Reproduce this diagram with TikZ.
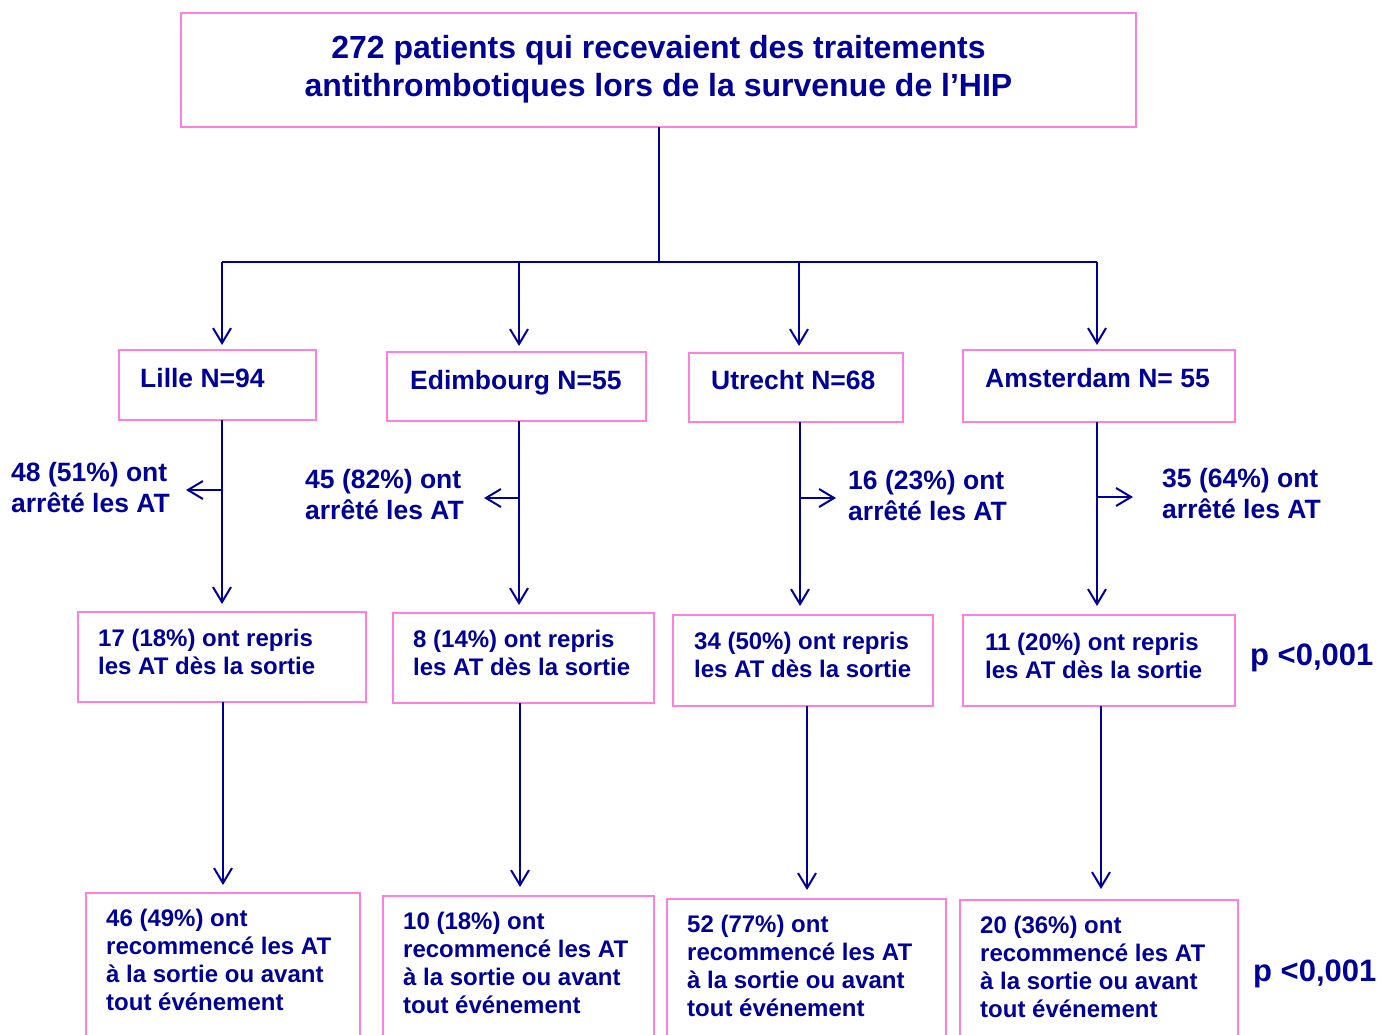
\documentclass[tikz,border=0pt]{standalone}
\usepackage{fontspec}
\setmainfont{Liberation Sans}
\usetikzlibrary{arrows.meta}
\definecolor{navy}{RGB}{0,0,150}
\definecolor{pinkb}{RGB}{255,128,220}
\begin{document}
\begin{tikzpicture}[x=1pt,y=-1pt,
  box/.style={draw=pinkb, line width=2pt, inner sep=0pt, outer sep=0pt},
  txt/.style={text=navy, font=\bfseries\fontsize{24}{28}\selectfont, align=left, anchor=base west, inner sep=0pt},
  lab/.style={text=navy, font=\bfseries\fontsize{26.5}{31}\selectfont, align=left, anchor=base west, inner sep=0pt},
  pval/.style={text=navy, font=\bfseries\fontsize{31}{36}\selectfont, anchor=base west, inner sep=0pt},
  conn/.style={draw=navy, line width=2pt},
  arr/.style={conn, -{Straight Barb[length=15pt,width=18pt]}}]
\useasboundingbox (0,0) rectangle (1389,1035);
\fill[white] (0,0) rectangle (1389,1035);
% boxes
\node[box, minimum width=955pt, minimum height=114pt] (top) at (658.5,70) {};
\node[text=navy, font=\bfseries\fontsize{32}{38}\selectfont, align=center, inner sep=0pt] (title) at (658.5,69)
  {272 patients qui recevaient des traitements\\antithrombotiques lors de la survenue de l’HIP};
\node[box, minimum width=197pt, minimum height=70pt] (lille) at (217.5,385) {};
\node[box, minimum width=259pt, minimum height=69pt] (edim) at (516.5,386.5) {};
\node[box, minimum width=214pt, minimum height=69pt] (utr) at (796,387.5) {};
\node[box, minimum width=272pt, minimum height=72pt] (ams) at (1099,386) {};
\node[lab] (lilleT) at (140,387.5) {Lille N=94};
\node[lab] (edimT) at (410,389.5) {Edimbourg N=55};
\node[lab] (utrT) at (711,389.5) {Utrecht N=68};
\node[lab] (amsT) at (985,387.5) {Amsterdam N= 55};
% row 2
\node[box, minimum width=288pt, minimum height=90pt] (l2) at (222,657) {};
\node[box, minimum width=261pt, minimum height=90pt] (e2) at (523.5,658) {};
\node[box, minimum width=260pt, minimum height=91pt] (u2) at (803,660.5) {};
\node[box, minimum width=272pt, minimum height=91pt] (a2) at (1099,660.5) {};
\node[txt] (l2T) at (98,674) {17 (18\%) ont repris\\les AT dès la sortie};
\node[txt] (e2T) at (413,675) {8 (14\%) ont repris\\les AT dès la sortie};
\node[txt] (u2T) at (694,677) {34 (50\%) ont repris\\les AT dès la sortie};
\node[txt] (a2T) at (985,678) {11 (20\%) ont repris\\les AT dès la sortie};
\node[pval] (p1) at (1250,665) {p <0,001};
% row 3
\node[box, minimum width=274pt, minimum height=200pt] (l3) at (223,993) {};
\node[box, minimum width=271pt, minimum height=200pt] (e3) at (518.5,996) {};
\node[box, minimum width=279pt, minimum height=200pt] (u3) at (806.5,999) {};
\node[box, minimum width=278pt, minimum height=200pt] (a3) at (1099,1000) {};
\node[txt] (l3T) at (106,1010) {46 (49\%) ont\\recommencé les AT\\à la sortie ou avant\\tout événement};
\node[txt] (e3T) at (403,1013) {10 (18\%) ont\\recommencé les AT\\à la sortie ou avant\\tout événement};
\node[txt] (u3T) at (687,1016) {52 (77\%) ont\\recommencé les AT\\à la sortie ou avant\\tout événement};
\node[txt] (a3T) at (980,1017) {20 (36\%) ont\\recommencé les AT\\à la sortie ou avant\\tout événement};
\node[pval] (p2) at (1253,981) {p <0,001};
% side labels
\node[lab] (s1T) at (11,512.5) {48 (51\%) ont\\arrêté les AT};
\node[lab] (s2T) at (305,519.5) {45 (82\%) ont\\arrêté les AT};
\node[lab] (s3T) at (848,520.5) {16 (23\%) ont\\arrêté les AT};
\node[lab] (s4T) at (1162,518.5) {35 (64\%) ont\\arrêté les AT};
% coordinates
\coordinate (hub) at (658.5,262);
\coordinate (b1) at (222,262);
\coordinate (b2) at (519,262);
\coordinate (b3) at (799,262);
\coordinate (b4) at (1097,262);
\coordinate (c1) at (222,0);
\coordinate (c2) at (519,0);
\coordinate (c3) at (800,0);
\coordinate (c4) at (1097,0);
\coordinate (d1) at (223,0);
\coordinate (d2) at (520,0);
\coordinate (d3) at (807,0);
\coordinate (d4) at (1101,0);
\coordinate (s1) at (222,490);
\coordinate (t1) at (186,490);
\coordinate (s2) at (519,498);
\coordinate (t2) at (484,498);
\coordinate (s3) at (800,498);
\coordinate (t3) at (836,498);
\coordinate (s4) at (1097,497);
\coordinate (t4) at (1133,497);
% connectors
\draw[conn] (top.south) -- (hub);
\draw[conn] (b1) -- (b4);
\draw[arr, shorten >=5pt] (b1) -- (lille.north -| b1);
\draw[arr, shorten >=6pt] (b2) -- (edim.north -| b2);
\draw[arr, shorten >=7pt] (b3) -- (utr.north -| b3);
\draw[arr, shorten >=5pt] (b4) -- (ams.north -| b4);
\draw[arr, shorten >=8pt] (lille.south -| c1) -- (l2.north -| c1);
\draw[arr, shorten >=8pt] (edim.south -| c2) -- (e2.north -| c2);
\draw[arr, shorten >=9pt] (utr.south -| c3) -- (u2.north -| c3);
\draw[arr, shorten >=9pt] (ams.south -| c4) -- (a2.north -| c4);
\draw[arr] (s1) -- (t1);
\draw[arr] (s2) -- (t2);
\draw[arr] (s3) -- (t3);
\draw[arr] (s4) -- (t4);
\draw[arr, shorten >=8pt] (l2.south -| d1) -- (l3.north -| d1);
\draw[arr, shorten >=9pt] (e2.south -| d2) -- (e3.north -| d2);
\draw[arr, shorten >=9pt] (u2.south -| d3) -- (u3.north -| d3);
\draw[arr, shorten >=11pt] (a2.south -| d4) -- (a3.north -| d4);
\end{tikzpicture}
\end{document}
